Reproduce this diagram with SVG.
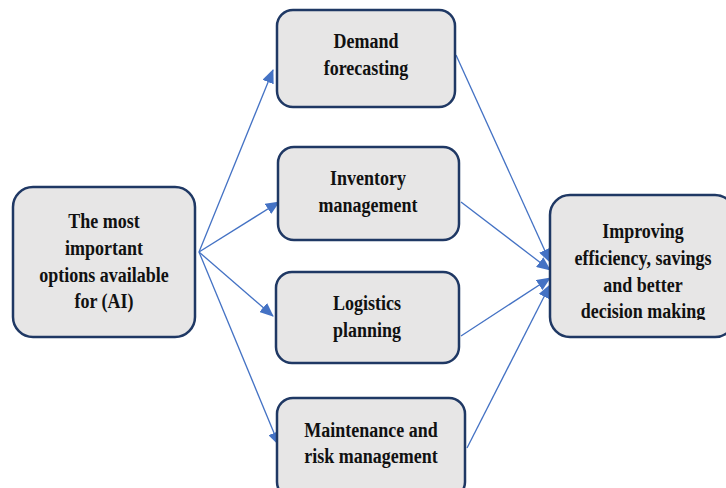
<svg xmlns="http://www.w3.org/2000/svg" width="726" height="488" viewBox="0 0 726 488">
<defs>
<style>
.box{fill:#E7E6E6;stroke:#1F3864;stroke-width:2.5}
.t{font-family:"Liberation Serif","Times New Roman",serif;font-weight:bold;font-size:18px;fill:#111;text-anchor:middle}
.c{stroke:#4472C4;stroke-width:1.3;fill:none;marker-end:url(#ah)}
</style>
<marker id="ah" markerUnits="userSpaceOnUse" markerWidth="14" markerHeight="12" viewBox="0 0 14 12" refX="13" refY="6" orient="auto">
<path d="M0,0 L14,6 L0,12 Z" fill="#4472C4"/>
</marker>
<clipPath id="rc"><rect x="540" y="190" width="200" height="130"/></clipPath>
</defs>
<rect width="726" height="488" fill="#fff"/>
<g id="connectors">
<line class="c" x1="199" y1="252" x2="273" y2="70"/>
<line class="c" x1="199" y1="252" x2="279" y2="202"/>
<line class="c" x1="199" y1="252" x2="273" y2="316"/>
<line class="c" x1="199" y1="252" x2="279" y2="445"/>
<line class="c" x1="456" y1="55" x2="550" y2="262"/>
<line class="c" x1="461" y1="202" x2="550" y2="270"/>
<line class="c" x1="461" y1="336" x2="550" y2="278"/>
<line class="c" x1="467" y1="448" x2="550" y2="285"/>
</g>
<g id="source">
<rect class="box" x="13" y="187" width="182" height="150" rx="20"/>
<g transform="translate(104,228) scale(1,1.22)"><text class="t">The most</text></g>
<g transform="translate(104,255) scale(1,1.22)"><text class="t">important</text></g>
<g transform="translate(104,282) scale(1,1.22)"><text class="t">options available</text></g>
<g transform="translate(104,308) scale(1,1.22)"><text class="t">for (AI)</text></g>
</g>
<g id="demand">
<rect class="box" x="277" y="10" width="178" height="97" rx="16"/>
<g transform="translate(366,48) scale(1,1.22)"><text class="t">Demand</text></g>
<g transform="translate(366,75) scale(1,1.22)"><text class="t">forecasting</text></g>
</g>
<g id="inventory">
<rect class="box" x="278" y="147" width="181" height="93" rx="16"/>
<g transform="translate(368,185) scale(1,1.22)"><text class="t">Inventory</text></g>
<g transform="translate(368,212) scale(1,1.22)"><text class="t">management</text></g>
</g>
<g id="logistics">
<rect class="box" x="276" y="272" width="183" height="91" rx="16"/>
<g transform="translate(367,310) scale(1,1.22)"><text class="t">Logistics</text></g>
<g transform="translate(367,337) scale(1,1.22)"><text class="t">planning</text></g>
</g>
<g id="maintenance">
<rect class="box" x="277" y="398" width="188" height="100" rx="16"/>
<g transform="translate(371,437) scale(1,1.22)"><text class="t">Maintenance and</text></g>
<g transform="translate(371,463) scale(1,1.22)"><text class="t">risk management</text></g>
</g>
<g id="outcome">
<rect class="box" x="550" y="195" width="185" height="142" rx="20"/>
<g clip-path="url(#rc)">
<g transform="translate(643,238) scale(1,1.22)"><text class="t">Improving</text></g>
<g transform="translate(643,265) scale(1,1.22)"><text class="t">efficiency, savings</text></g>
<g transform="translate(643,292) scale(1,1.22)"><text class="t">and better</text></g>
<g transform="translate(643,318) scale(1,1.22)"><text class="t">decision making</text></g>
</g>
</g>
</svg>
